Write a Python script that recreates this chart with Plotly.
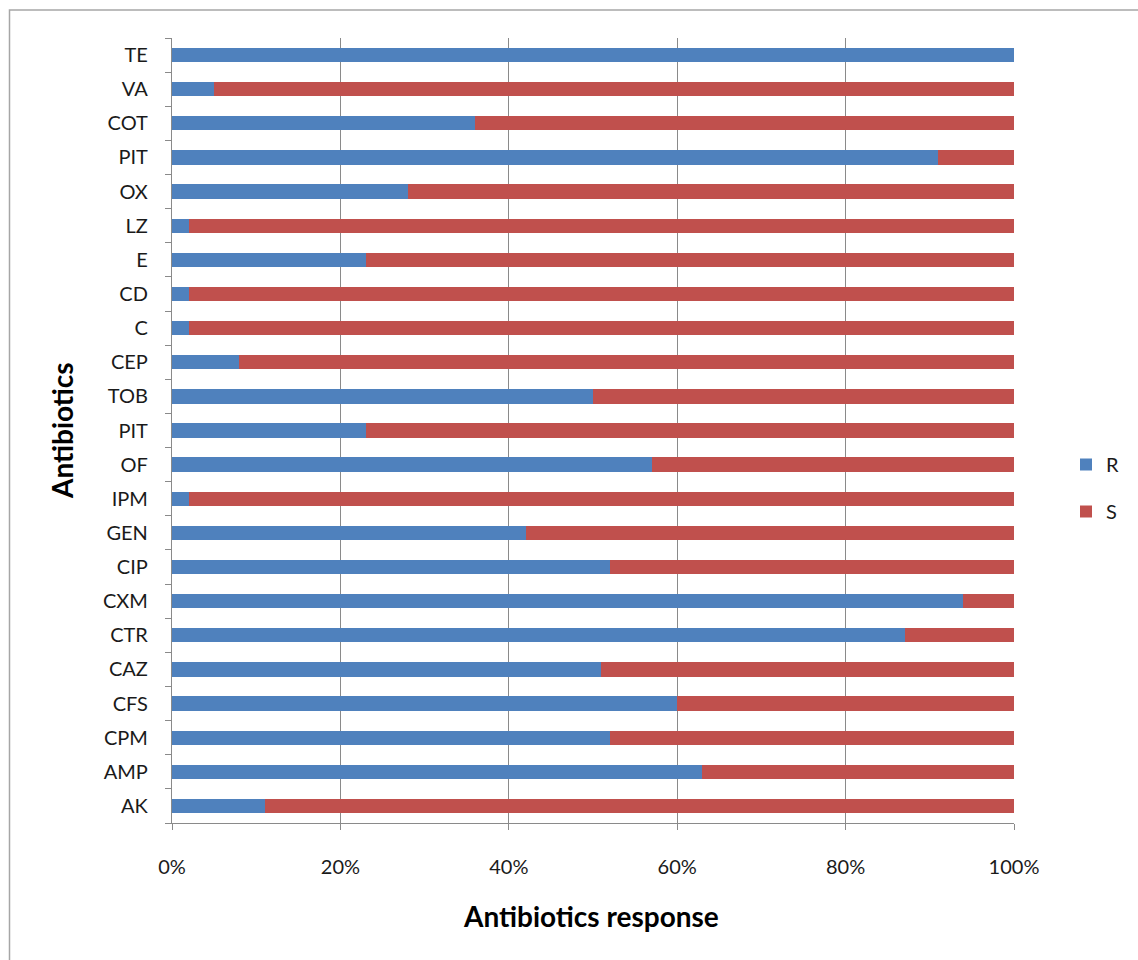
import plotly.graph_objects as go

# Antibiotics listed from bottom (AK) to top (TE)
antibiotics = ["AK", "AMP", "CPM", "CFS", "CAZ", "CTR", "CXM", "CIP", "GEN", "IPM",
               "OF", "PIT", "TOB", "CEP", "C", "CD", "E", "LZ", "OX", "PIT", "COT", "VA", "TE"]
resistant = [11, 63, 52, 60, 51, 87, 94, 52, 42, 2,
             57, 23, 50, 8, 2, 2, 23, 2, 28, 91, 36, 5, 100]
sensitive = [89, 37, 48, 40, 49, 13, 6, 48, 58, 98,
             43, 77, 50, 92, 98, 98, 77, 98, 72, 9, 64, 95, 0]
x_ticks = [0, 20, 40, 60, 80, 100]

positions = list(range(len(antibiotics)))

BLUE = "#4F81BD"
RED = "#C0504D"
GRID = "#8A8A8A"
FONT = "Lato, 'Liberation Sans', sans-serif"
TEXT = "#1a1a1a"

fig = go.Figure()
fig.add_trace(go.Bar(y=positions, x=resistant, orientation="h", name="R",
                     marker=dict(color=BLUE, line=dict(width=0)), legendgroup="R"))
fig.add_trace(go.Bar(y=positions, x=sensitive, orientation="h", name="S",
                     marker=dict(color=RED, line=dict(width=0)), legendgroup="S"))

W, H = 1138, 960
L, R, T, B = 172, 124, 38, 137
pw, ph = W - L - R, H - T - B


def px_x(px):
    return (px - L) / pw


def px_y(py):
    return (T + ph - py) / ph


fig.update_layout(
    width=W, height=H,
    barmode="stack", bargap=0.58,
    margin=dict(l=L, r=R, t=T, b=B, autoexpand=False),
    paper_bgcolor="white", plot_bgcolor="white",
    font=dict(family=FONT, size=20, color=TEXT),
    showlegend=True,
    legend=dict(x=px_x(1066), y=px_y(488), xanchor="left", yanchor="middle",
                traceorder="grouped", tracegroupgap=18, itemwidth=30,
                font=dict(family=FONT, size=20, color=TEXT), bgcolor="rgba(0,0,0,0)"),
    xaxis=dict(range=[0, 100], tickvals=x_ticks, ticktext=[f"{v}%" for v in x_ticks],
               tickfont=dict(size=20),
               showgrid=True, gridcolor=GRID, gridwidth=1.3, zeroline=False,
               showline=True, linecolor=GRID, linewidth=1.3,
               ticks="outside", ticklen=6, tickcolor=GRID, tickwidth=1.3,
               ticklabelstandoff=20, fixedrange=True),
    yaxis=dict(range=[-0.5, len(antibiotics) - 0.5], tickvals=positions, ticktext=antibiotics,
               tickfont=dict(size=20),
               showgrid=False, zeroline=False,
               showline=True, linecolor=GRID, linewidth=1.3,
               ticks="", ticklabelstandoff=19,
               minor=dict(tickvals=[p - 0.5 for p in positions] + [len(antibiotics) - 0.5],
                          ticks="outside", ticklen=6, tickcolor=GRID, tickwidth=1.3,
                          showgrid=False),
               fixedrange=True),
    annotations=[
        dict(text="<b>Antibiotics response</b>", xref="paper", yref="paper",
             x=px_x(591), y=px_y(916), xanchor="center", yanchor="middle", showarrow=False,
             font=dict(family=FONT, size=28, color="#000")),
        dict(text="<b>Antibiotics</b>", xref="paper", yref="paper",
             x=px_x(62), y=px_y(431), xanchor="center", yanchor="middle", showarrow=False,
             textangle=-90, font=dict(family=FONT, size=28, color="#000")),
    ],
    shapes=[
        dict(type="rect", xref="paper", yref="paper",
             x0=px_x(9.5), x1=px_x(1145), y0=px_y(965), y1=px_y(10),
             line=dict(color="#A6A6A6", width=1.5), layer="below"),
    ],
)

fig.write_html("out.html")
